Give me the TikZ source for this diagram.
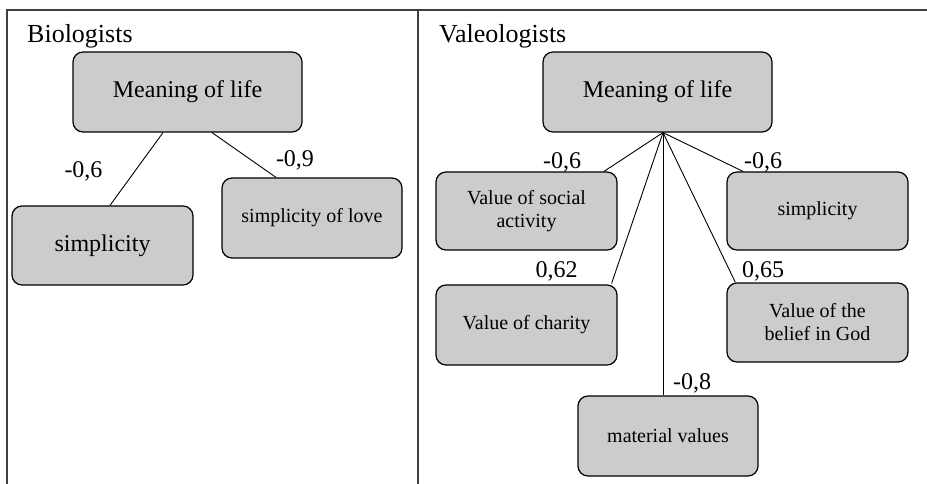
\documentclass[tikz,border=0pt]{standalone}
\usepackage{fontspec}
\setmainfont{Liberation Serif}
\begin{document}
\begin{tikzpicture}[x=1pt,y=-1pt,
  box/.style={draw=black,line width=1.2pt,fill=boxgray,rounded corners=10pt,align=center,inner sep=2pt},
  big/.style={font=\fontsize{24}{26}\selectfont},
  small/.style={font=\fontsize{20}{23}\selectfont},
  lbl/.style={font=\fontsize{24}{26}\selectfont,anchor=base,inner sep=0pt},
  ttl/.style={font=\fontsize{26}{28}\selectfont,anchor=base west,inner sep=0pt},
  conn/.style={draw=black,line width=0.9pt},
  frame/.style={draw=framegray,line width=1.8pt}]
\definecolor{boxgray}{HTML}{CCCCCC}
\definecolor{framegray}{HTML}{404040}
\useasboundingbox (0,0) rectangle (927,484);
% frame
\coordinate (ftl) at (7,10);
\coordinate (ftr) at (927,10);
\coordinate (fbl) at (7,484);
\coordinate (fmt) at (418,10);
\coordinate (fmb) at (418,484);
\draw[frame] (fbl) -- (ftl) -- (ftr);
\draw[frame] (fmt) -- (fmb);
% titles
\node[ttl] (t1) at (27,43) {Biologists};
\node[ttl] (t2) at (439,43) {Valeologists};
% left panel
\node[box,big,minimum width=229pt,minimum height=80pt] (ml1) at (187.5,92) {Meaning of life};
\node[box,big,minimum width=181pt,minimum height=79pt] (s1) at (102.5,245.5) {simplicity};
\node[box,small,minimum width=180pt,minimum height=80pt] (sl1) at (312,218) {simplicity of love};
\draw[conn] ([xshift=-24.5pt]ml1.south) -- ([xshift=7.5pt]s1.north);
\draw[conn] ([xshift=24.5pt]ml1.south) -- ([xshift=-36pt]sl1.north);
\node[lbl] (l1) at (83.5,178) {-0,6};
\node[lbl] (l2) at (295,167) {-0,9};
% right panel
\node[box,big,minimum width=229pt,minimum height=80pt] (ml2) at (657.5,92) {Meaning of life};
\node[box,small,minimum width=181pt,minimum height=78pt] (vsa) at (526.5,211) {Value of social\\activity};
\node[box,small,minimum width=181pt,minimum height=78pt] (s2) at (817.5,211) {simplicity};
\node[box,small,minimum width=181pt,minimum height=80pt] (vc) at (526.5,325) {Value of charity};
\node[box,small,minimum width=181pt,minimum height=79pt] (vb) at (817.5,322.5) {Value of the\\belief in God};
\node[box,small,minimum width=180pt,minimum height=80pt] (mv) at (668,436) {material values};
\coordinate (apex) at ([xshift=5.5pt]ml2.south);
\draw[conn] (apex) -- ([xshift=77.5pt]vsa.north);
\draw[conn] (apex) -- ([xshift=-74.5pt]s2.north);
\draw[conn] (apex) -- ([xshift=-6pt,yshift=1pt]vc.north east);
\draw[conn] (apex) -- ([xshift=9pt]vb.north west);
\draw[conn] (apex) -- ([xshift=-5pt]mv.north);
\node[lbl] (r1) at (562,168) {-0,6};
\node[lbl] (r2) at (763,168) {-0,6};
\node[lbl] (r3) at (556.5,277) {0,62};
\node[lbl] (r4) at (763,277) {0,65};
\node[lbl] (r5) at (692,389) {-0,8};
\end{tikzpicture}
\end{document}
